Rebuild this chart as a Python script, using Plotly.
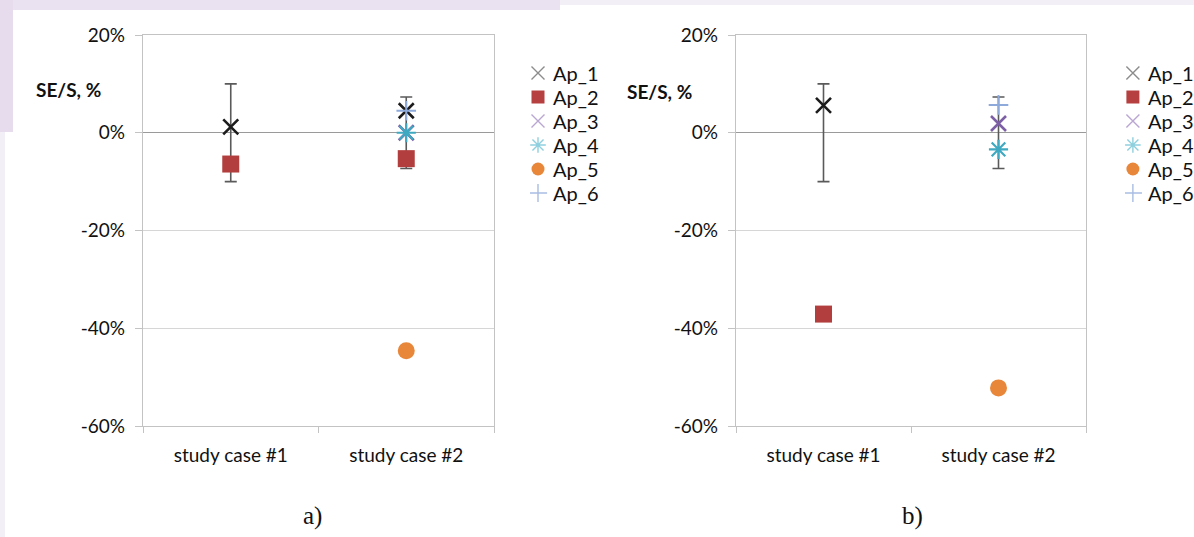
import plotly.graph_objects as go

# Categories and per-approach SE/S values (%), panel a and panel b
CASES = ["study case #1", "study case #2"]

A_AP1 = [1.2, 4.5]
A_AP2 = [-6.4, -5.3]
A_AP3 = [None, 0.0]
A_AP4 = [None, 0.0]
A_AP5 = [None, -44.6]
A_AP6 = [None, 4.5]

B_AP1 = [5.6, None]
B_AP2 = [-37.1, None]
B_AP3 = [None, 1.9]
B_AP4 = [None, -3.4]
B_AP5 = [None, -52.2]
B_AP6 = [None, 5.7]

# Uncertainty band (half-width, %) around zero for each study case
ERR_CENTER = [0, 0]
ERR_HALF = [10.0, 7.3]

NAMES = ["Ap_1", "Ap_2", "Ap_3", "Ap_4", "Ap_5", "Ap_6"]
Y_TICKS = [-60, -40, -20, 0, 20]
Y_TICK_TEXT = ["-60%", "-40%", "-20%", "0%", "20%"]

STYLES = [
    dict(symbol="x-thin", color="#1c1c1c", size=15, line=2.6),
    dict(symbol="square", color="#b23f3e", size=17, line=0),
    dict(symbol="x-thin", color="#7d5fa6", size=15, line=2.6),
    dict(symbol="asterisk", color="#3fa9c1", size=16, line=2.2),
    dict(symbol="circle", color="#e8873a", size=17, line=0),
    dict(symbol="cross-thin", color="#8eaadb", size=14, line=2.0),
]
KEY_STYLES = [
    dict(symbol="x-thin", color="#8c8c8c", size=13, line=1.4),
    dict(symbol="square", color="#b5403f", size=13, line=0),
    dict(symbol="x-thin", color="#b9a6d2", size=13, line=1.4),
    dict(symbol="asterisk", color="#8fd0de", size=13, line=1.4),
    dict(symbol="circle", color="#e8873a", size=13, line=0),
    dict(symbol="cross-thin", color="#a9bde3", size=13, line=1.4),
]

FONT = "Lato, 'Open Sans', sans-serif"
W, H = 1194, 537


def px(v):
    return v / W


def py(v):
    return 1 - v / H


fig = go.Figure()


def marker_dict(st):
    mk = dict(symbol=st["symbol"], size=st["size"], color=st["color"])
    if st["line"]:
        mk["line"] = dict(color=st["color"], width=st["line"])
    return mk


def add_panel(series, xaxis, yaxis):
    # error bars around zero, no visible marker
    fig.add_trace(go.Scatter(
        x=CASES, y=ERR_CENTER, mode="markers", xaxis=xaxis, yaxis=yaxis,
        marker=dict(size=1, opacity=0), hoverinfo="skip",
        error_y=dict(type="data", array=ERR_HALF, visible=True,
                     color="#5a5a5a", thickness=1.6, width=6),
    ))
    for name, vals, st in zip(NAMES, series, STYLES):
        fig.add_trace(go.Scatter(
            x=CASES, y=vals, mode="markers", name=name, xaxis=xaxis,
            yaxis=yaxis, marker=marker_dict(st),
        ))


def add_key(xaxis, yaxis):
    # series key: one symbol per row, label to its right
    rows = list(range(len(NAMES)))
    for row, name, st in zip(rows, NAMES, KEY_STYLES):
        fig.add_trace(go.Scatter(
            x=[8], y=[row], mode="markers", xaxis=xaxis, yaxis=yaxis,
            marker=marker_dict(st), hoverinfo="skip",
        ))
        fig.add_annotation(
            x=21, y=row, xref=xaxis, yref=yaxis, text=name, showarrow=False,
            xanchor="left", yanchor="middle",
            font=dict(family=FONT, size=20, color="#111111"),
        )


add_panel([A_AP1, A_AP2, A_AP3, A_AP4, A_AP5, A_AP6], "x", "y")
add_panel([B_AP1, B_AP2, B_AP3, B_AP4, B_AP5, B_AP6], "x2", "y2")
add_key("x3", "y3")
add_key("x4", "y4")

xaxis_style = dict(
    type="category", range=[-0.5, 1.5], showline=True, mirror=True,
    linecolor="#c3c3c3", linewidth=1.3, ticks="outside", tickson="boundaries",
    ticklen=6, tickcolor="#c3c3c3", showgrid=False, zeroline=False,
    tickfont=dict(family=FONT, size=19, color="#111111"),
    ticklabelstandoff=12, fixedrange=True, automargin=False,
)
yaxis_style = dict(
    range=[-60, 20], tickvals=Y_TICKS, ticktext=Y_TICK_TEXT, showline=True,
    mirror=True, linecolor="#c3c3c3", linewidth=1.3, ticks="outside",
    ticklen=7, tickcolor="#c3c3c3", showgrid=True, gridcolor="#d6d6d6",
    gridwidth=1.3, zeroline=True, zerolinecolor="#9a9a9a", zerolinewidth=1.3,
    tickfont=dict(family=FONT, size=19, color="#111111"),
    ticklabelstandoff=6, fixedrange=True, automargin=False,
)
key_x = dict(range=[0, 70], visible=False, fixedrange=True)
key_y = dict(range=[5.5, -0.5], visible=False, fixedrange=True,
             domain=[py(205), py(61)])

fig.update_layout(
    width=W, height=H, margin=dict(l=0, r=0, t=0, b=0, autoexpand=False),
    paper_bgcolor="white", plot_bgcolor="rgba(0,0,0,0)", showlegend=False,
    xaxis=dict(domain=[px(143), px(494)], anchor="y", **xaxis_style),
    yaxis=dict(domain=[py(426), py(35)], anchor="x", **yaxis_style),
    xaxis2=dict(domain=[px(736), px(1086)], anchor="y2", **xaxis_style),
    yaxis2=dict(domain=[py(426), py(35)], anchor="x2", **yaxis_style),
    xaxis3=dict(domain=[px(530), px(600)], anchor="y3", **key_x),
    yaxis3=dict(anchor="x3", **key_y),
    xaxis4=dict(domain=[px(1125), px(1194)], anchor="y4", **key_x),
    yaxis4=dict(anchor="x4", **key_y),
    shapes=[
        # lavender slide frame
        dict(type="rect", xref="paper", yref="paper", x0=0, x1=1,
             y0=py(5), y1=1, fillcolor="#f2eff7", line_width=0, layer="below"),
        dict(type="rect", xref="paper", yref="paper", x0=0, x1=px(560),
             y0=py(10), y1=1, fillcolor="#ebe2f1", line_width=0, layer="below"),
        dict(type="rect", xref="paper", yref="paper", x0=0, x1=px(5),
             y0=0, y1=1, fillcolor="#f2eff7", line_width=0, layer="below"),
        dict(type="rect", xref="paper", yref="paper", x0=0, x1=px(13),
             y0=py(132), y1=1, fillcolor="#e6dcee", line_width=0,
             layer="below"),
    ],
)

for text, x, y, family, size in [
    ("<b>SE/S, %</b>", 68, 90, FONT, 19),
    ("<b>SE/S, %</b>", 659, 91, FONT, 19),
    ("a)", 312, 516, "'Liberation Serif', serif", 25),
    ("b)", 912, 516, "'Liberation Serif', serif", 25),
]:
    fig.add_annotation(
        text=text, x=px(x), y=py(y), xref="paper", yref="paper",
        xanchor="center", yanchor="middle", showarrow=False,
        font=dict(family=family, size=size, color="#111111"),
    )

fig.write_html("out.html")
